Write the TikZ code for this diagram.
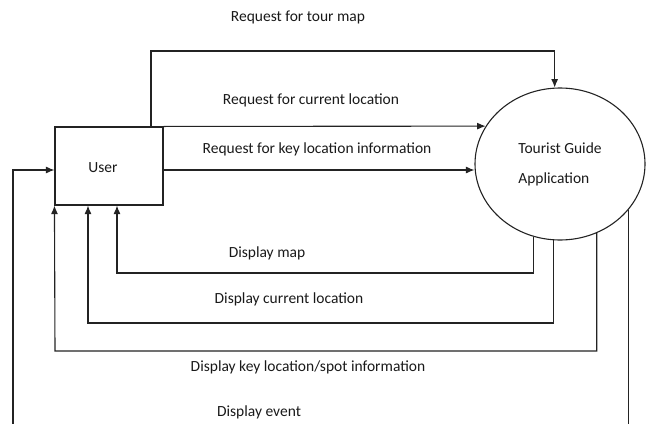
\documentclass[tikz,border=0pt]{standalone}
\usepackage{fontspec}
\setmainfont{Carlito}
\usetikzlibrary{shapes.geometric,arrows.meta,calc}
\definecolor{linecolor}{RGB}{35,35,35}
\definecolor{textcolor}{RGB}{25,25,25}

\tikzset{
  flow/.style={-{Latex[length=8.5pt,width=7pt]}, line width=1.1pt, draw=linecolor},
  lbl/.style={font=\fontsize{15.5}{18}\selectfont, text=textcolor, inner sep=0pt},
}

\begin{document}
\begin{tikzpicture}[x=1pt,y=-1pt]

\useasboundingbox (0,0) rectangle (647,423);
\begin{scope}
\clip (0,0) rectangle (647,423);

% ================= ENTITIES =================
\node[draw=linecolor, line width=1.1pt,
minimum width=108pt, minimum height=78pt] (user) at (109,166) {};
\node[lbl] (luser) at (103,168) {User};

\node[ellipse, draw=linecolor, line width=1.1pt,
minimum width=170pt, minimum height=152pt,
align=left, text=textcolor,
font=\fontsize{15.5}{30}\selectfont] (app) at (560,164)
{Tourist Guide\\Application};

% bends of the flows
\coordinate (tm) at (151,51);
\coordinate (dm) at (117,273);
\coordinate (dc) at (88,323);
\coordinate (dk) at (55,351);
\coordinate (de) at (13,440);

% ================= REQUESTS =================
\draw[flow] (user.north -| tm) -- (tm) -| (app.94);
\draw[flow] (user.north east) -- (app.153);
\draw[flow] ([yshift=-4pt]user.east) -- ([yshift=-4pt]user.east -| app.west);

% ================= DISPLAYS =================
\draw[flow] (app.250) |- (dm) -- (dm |- user.south);
\draw[flow] (app.265) |- (dc) -- (dc |- user.south);
\draw[flow] (app.298) |- (dk) -- (user.south west);
\draw[flow] (app.326) |- (de) |- ([yshift=-4pt]user.west);

% ================= LABELS =================
\node[lbl] (ltm) at (298,17) {Request for tour map};
\node[lbl] (lcl) at (311,100) {Request for current location};
\node[lbl] (lki) at (317,149) {Request for key location information};
\node[lbl] (ldm) at (267,253) {Display map};
\node[lbl] (ldc) at (289,299) {Display current location};
\node[lbl] (ldk) at (308,367) {Display key location/spot information};
\node[lbl] (lde) at (259,412) {Display event};

\end{scope}

\end{tikzpicture}
\end{document}
